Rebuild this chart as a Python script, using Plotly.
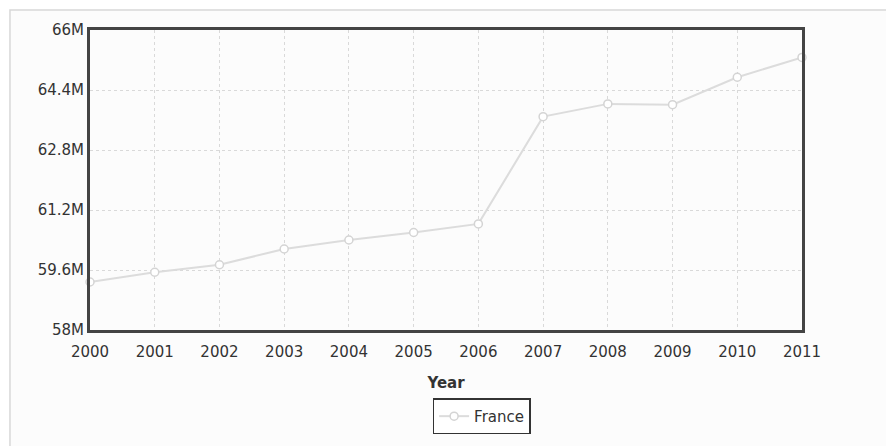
import plotly.graph_objects as go

years = [2000, 2001, 2002, 2003, 2004, 2005, 2006, 2007, 2008, 2009, 2010, 2011]
france = [59.28e6, 59.54e6, 59.74e6, 60.16e6, 60.40e6, 60.60e6, 60.83e6,
          63.69e6, 64.03e6, 64.01e6, 64.74e6, 65.27e6]
y_ticks = [58e6, 59.6e6, 61.2e6, 62.8e6, 64.4e6, 66e6]
y_tick_labels = ["58M", "59.6M", "61.2M", "62.8M", "64.4M", "66M"]

fam = "DejaVu Sans, Verdana, sans-serif"
txt = "#333333"

fig = go.Figure()
fig.add_trace(go.Scatter(
    x=years, y=france, name="France", mode="lines+markers",
    line=dict(color="#dcdcdc", width=2),
    marker=dict(symbol="circle", size=8, color="#ffffff",
                line=dict(color="#d4d4d4", width=1.5)),
    cliponaxis=False,
))

fig.update_layout(
    width=886, height=446,
    margin=dict(l=90, r=84, t=30, b=116, autoexpand=False),
    paper_bgcolor="#ffffff", plot_bgcolor="#ffffff",
    font=dict(family=fam, size=15, color=txt),
    showlegend=True,
    legend=dict(orientation="h", x=0.55, xanchor="center", y=-0.228, yanchor="top",
                bordercolor="#333333", borderwidth=1.5, bgcolor="#ffffff",
                font=dict(family=fam, size=15, color=txt),
                itemwidth=30),
    xaxis=dict(range=[2000, 2011], tickvals=years, ticktext=[str(y) for y in years],
               showgrid=True, gridcolor="#d9d9d9", griddash="dot", gridwidth=1,
               showline=True, linecolor="#444444", linewidth=3, mirror=True,
               ticks="", zeroline=False, ticklabelstandoff=6, automargin=False,
               tickfont=dict(family=fam, size=15, color=txt),
               title=dict(text="<b>Year</b>", font=dict(family=fam, size=15, color=txt),
                          standoff=18)),
    yaxis=dict(range=[58e6, 66e6], tickvals=y_ticks, ticktext=y_tick_labels,
               showgrid=True, gridcolor="#d9d9d9", griddash="dot", gridwidth=1,
               showline=True, linecolor="#444444", linewidth=3, mirror=True,
               ticks="", zeroline=False, automargin=False,
               tickfont=dict(family=fam, size=15, color=txt)),
    shapes=[dict(type="rect", xref="paper", yref="paper",
                 x0=-0.1124, x1=1.13, y0=-0.40, y1=1.0667,
                 fillcolor="#fcfcfc",
                 line=dict(color="#d8d8d8", width=1.5), layer="below")],
)

fig.write_html("out.html", config={"displayModeBar": False},
               post_script="document.body.style.margin='0px';")
